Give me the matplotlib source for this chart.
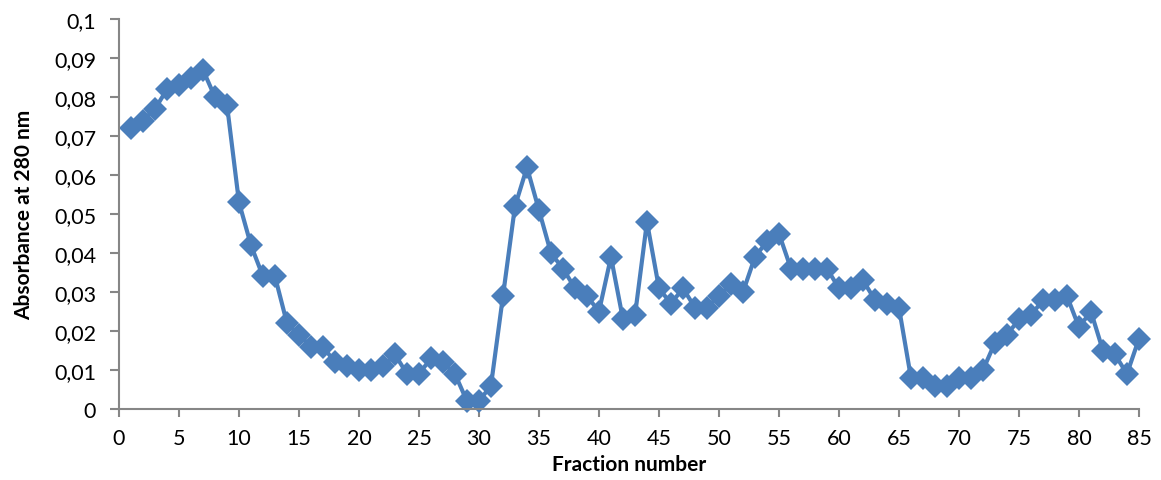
import numpy as np
import matplotlib.pyplot as plt
from matplotlib.ticker import FuncFormatter

# %% Data
fraction = np.arange(1, 86)
absorbance = [
    0.072, 0.074, 0.077, 0.082, 0.083, 0.085, 0.087, 0.080, 0.078, 0.053,
    0.042, 0.034, 0.034, 0.022, 0.019, 0.016, 0.016, 0.012, 0.011, 0.010,
    0.010, 0.011, 0.014, 0.009, 0.009, 0.013, 0.012, 0.009, 0.002, 0.002,
    0.006, 0.029, 0.052, 0.062, 0.051, 0.040, 0.036, 0.031, 0.029, 0.025,
    0.039, 0.023, 0.024, 0.048, 0.031, 0.027, 0.031, 0.026, 0.026, 0.029,
    0.032, 0.030, 0.039, 0.043, 0.045, 0.036, 0.036, 0.036, 0.036, 0.031,
    0.031, 0.033, 0.028, 0.027, 0.026, 0.008, 0.008, 0.006, 0.006, 0.008,
    0.008, 0.010, 0.017, 0.019, 0.023, 0.024, 0.028, 0.028, 0.029, 0.021,
    0.025, 0.015, 0.014, 0.009, 0.018,
]
xticks = np.arange(0, 86, 5)
yticks = np.arange(0, 0.101, 0.01)

# %% Plot
plt.rcParams['font.family'] = ['Lato', 'DejaVu Sans']
fig = plt.figure(figsize=(11.61, 4.81), dpi=100)
ax = fig.add_axes([0.1025, 0.1476, 0.8785, 0.8104])

ax.plot(fraction, absorbance, color='#4A7EBB', lw=3.0, marker='D',
        markersize=12, markeredgewidth=0, clip_on=False)

ax.set_xlim(0, 85)
ax.set_ylim(0, 0.1)
ax.set_xticks(xticks)
ax.set_yticks(yticks)
ax.yaxis.set_major_formatter(FuncFormatter(lambda v, p: f"{v:g}".replace('.', ',')))

for s in ['top', 'right']:
    ax.spines[s].set_visible(False)
for s in ['left', 'bottom']:
    ax.spines[s].set_color('#868686')
    ax.spines[s].set_linewidth(1.5)
ax.tick_params(axis='both', colors='#868686', width=1.5, length=6,
               labelcolor='black', labelsize=15.5)
ax.tick_params(axis='x', pad=8)
ax.tick_params(axis='y', length=6.5, pad=10)

ax.set_xlabel('Fraction number', fontsize=15, fontweight='bold', labelpad=4)
ax.set_ylabel('Absorbance at 280 nm', fontsize=15, fontweight='bold', labelpad=14)

fig.savefig('out.png', dpi=100)
